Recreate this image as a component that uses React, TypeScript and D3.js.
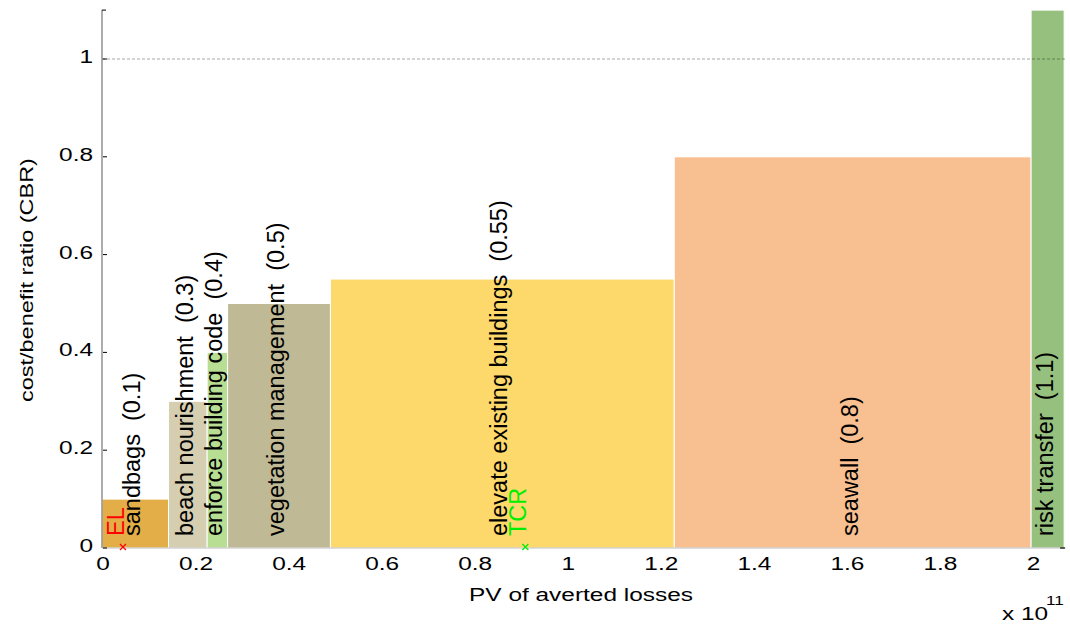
import React from "react";
import * as d3 from "d3";

const measures = [
  "sandbags",
  "beach nourishment",
  "enforce building code",
  "vegetation management",
  "elevate existing buildings",
  "seawall",
  "risk transfer",
];
// averted losses (benefit) per measure, in units of 1e11
const benefits = [0.143, 0.083, 0.044, 0.221, 0.739, 0.767, 0.071];
const cbrValues = [0.1, 0.3, 0.4, 0.5, 0.55, 0.8, 1.1];
const cbrLabels = ["0.1", "0.3", "0.4", "0.5", "0.55", "0.8", "1.1"];
const barColors = ["#E3AE48", "#D6CEB0", "#B7DE93", "#BFB995", "#FDD86A", "#F8C090", "#96C07E"];

const xTicks = [0, 0.2, 0.4, 0.6, 0.8, 1, 1.2, 1.4, 1.6, 1.8, 2];
const xTickLabels = ["0", "0.2", "0.4", "0.6", "0.8", "1", "1.2", "1.4", "1.6", "1.8", "2"];
const yTicks = [0, 0.2, 0.4, 0.6, 0.8, 1];
const yTickLabels = ["0", "0.2", "0.4", "0.6", "0.8", "1"];

const markerNames = ["EL", "TCR"];
const markerValues = [0.045, 0.91];
const markerColors = ["#FF0000", "#00EE00"];

const FONT = "'Liberation Sans', Arial, Helvetica, sans-serif";
const SX = 1.32;

export default function App() {
  const W = 1070;
  const H = 628;
  const total = d3.sum(benefits);
  const x = d3.scaleLinear().domain([0, 2]).range([102, 1032.5]);
  const y = d3.scaleLinear().domain([0, 1]).range([548, 59]);
  const xMax = total;
  const yMax = 1.1;
  const starts = d3.cumsum([0, ...benefits]);

  return (
    <svg width={W} height={H} style={{ display: "block", position: "absolute", left: 0, top: 0 }}>
      <style>{`body{margin:0}`}</style>
      <rect x={0} y={0} width={W} height={H} fill="#fff" />
      {benefits.map((b, i) => (
        <rect
          key={"bar" + i}
          x={x(starts[i])}
          y={y(cbrValues[i])}
          width={x(starts[i] + b) - x(starts[i])}
          height={y(0) - y(cbrValues[i])}
          fill={barColors[i]}
          stroke="#fff"
          strokeWidth={1}
        />
      ))}
      {/* axes */}
      <line x1={x(0)} x2={x(0)} y1={y(yMax)} y2={y(0)} stroke="#808080" strokeWidth={1.3} />
      <line x1={x(0)} x2={x(xMax)} y1={y(0)} y2={y(0)} stroke="#bdbdbd" strokeWidth={1} />
      {yTicks.map((t, i) => (
        <g key={"yt" + i}>
          <line x1={x(0) + 1} x2={x(0) + 5} y1={y(t)} y2={y(t)} stroke="#000" strokeWidth={1} />
          <text
            transform={`translate(93,${y(t) + 4}) scale(${SX},1)`}
            textAnchor="end"
            fontFamily={FONT}
            fontSize={18.5}
            fill="#000"
          >
            {yTickLabels[i]}
          </text>
        </g>
      ))}
      <line x1={x(0)} x2={x(0) + 4} y1={y(yMax)} y2={y(yMax)} stroke="#000" strokeWidth={1} />
      <line x1={x(xMax) - 4} x2={x(xMax) + 1} y1={y(0)} y2={y(0)} stroke="#000" strokeWidth={1.2} />
      {xTicks.map((t, i) => (
        <text
          key={"xt" + i}
          transform={`translate(${x(t) + 1},${y(0) + 22}) scale(${SX},1)`}
          textAnchor="middle"
          fontFamily={FONT}
          fontSize={18.5}
          fill="#000"
        >
          {xTickLabels[i]}
        </text>
      ))}
      {/* CBR = 1 reference line */}
      <line
        x1={x(0)}
        x2={x(xMax) + 1}
        y1={y(1)}
        y2={y(1)}
        stroke="#000"
        strokeOpacity={0.35}
        strokeWidth={1}
        strokeDasharray="3,2"
      />
      {/* bar labels */}
      {measures.map((m, i) => (
        <text
          key={"lbl" + i}
          transform={`translate(${x(starts[i] + benefits[i] / 2) + 5},${y(0) - 12}) rotate(-90)`}
          fontFamily={FONT}
          fontSize={23.5}
          fill="#000"
          style={{ whiteSpace: "pre" }}
        >
          {`${m}  (${cbrLabels[i]})`}
        </text>
      ))}
      {/* markers */}
      {markerValues.map((v, i) => (
        <g key={"mk" + i}>
          <path
            d={`M${x(v) - 3},${y(0) - 4}L${x(v) + 3},${y(0) + 2}M${x(v) - 3},${y(0) + 2}L${x(v) + 3},${y(0) - 4}`}
            stroke={markerColors[i]}
            strokeWidth={1.2}
            fill="none"
          />
          <text
            transform={`translate(${x(v) + 1},${y(0) - 12}) rotate(-90)`}
            fontFamily={FONT}
            fontSize={23.5}
            fill={markerColors[i]}
          >
            {markerNames[i]}
          </text>
        </g>
      ))}
      {/* axis titles */}
      <text
        transform={`translate(581,601) scale(${SX},1)`}
        textAnchor="middle"
        fontFamily={FONT}
        fontSize={18.5}
        fill="#000"
      >
        PV of averted losses
      </text>
      <text
        transform={`translate(33,${(y(yMax) + y(0)) / 2 + 1}) rotate(-90) scale(1.27,1)`}
        textAnchor="middle"
        fontFamily={FONT}
        fontSize={18.5}
        fill="#000"
      >
        cost/benefit ratio (CBR)
      </text>
      <text transform={`translate(1002,620) scale(${SX},1)`} fontFamily={FONT} fontSize={18.5} fill="#000">
        x 10
      </text>
      <text transform={`translate(1046,605) scale(${SX},1)`} fontFamily={FONT} fontSize={13} fill="#000">
        11
      </text>
    </svg>
  );
}
